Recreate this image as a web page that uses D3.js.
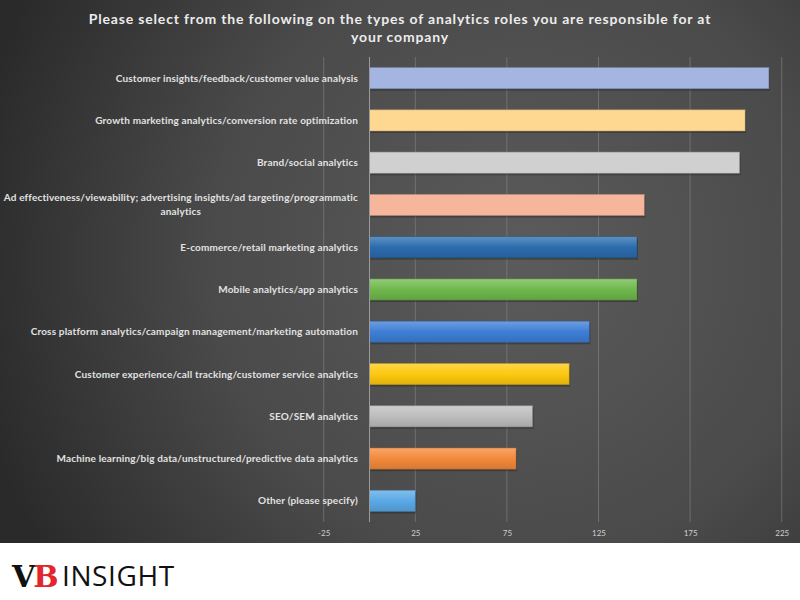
<!DOCTYPE html>
<html>
<head>
<meta charset="utf-8">
<script src="https://cdn.jsdelivr.net/npm/d3@7"></script>
<style>
  html, body { margin: 0; padding: 0; background: #ffffff; }
  svg { display: block; }
</style>
</head>
<body>
<svg id="chart" width="800" height="600"></svg>
<script>
const titleLines = [
  "Please select from the following on the types of analytics roles you are responsible for at",
  "your company"
];
const categories = [
  "Customer insights/feedback/customer value analysis",
  "Growth marketing analytics/conversion rate optimization",
  "Brand/social analytics",
  "Ad effectiveness/viewability; advertising insights/ad targeting/programmatic analytics",
  "E-commerce/retail marketing analytics",
  "Mobile analytics/app analytics",
  "Cross platform analytics/campaign management/marketing automation",
  "Customer experience/call tracking/customer service analytics",
  "SEO/SEM analytics",
  "Machine learning/big data/unstructured/predictive data analytics",
  "Other (please specify)"
];
const values = [218, 205, 202, 150, 146, 146, 120, 109, 89, 80, 25];
const barColors = ["#a3b5e0", "#fed891", "#d0d0d0", "#f6b69b", "#2b6cad", "#6fb84c", "#3d7ed5", "#fdc80f", "#bdbdbd", "#f4893a", "#5aa9e6"];
const gradientBars = [false, false, false, false, true, true, true, true, true, true, true];
const tickValues = [-25, 25, 75, 125, 175, 225];

const svg = d3.select("#chart");
const W = 800, H = 600;
const defs = svg.append("defs");

const bg = defs.append("radialGradient").attr("id", "bg")
  .attr("gradientUnits", "userSpaceOnUse")
  .attr("cx", 520).attr("cy", 260).attr("r", 560);
bg.append("stop").attr("offset", "0%").attr("stop-color", "#5b5b5b");
bg.append("stop").attr("offset", "55%").attr("stop-color", "#4a4a4a");
bg.append("stop").attr("offset", "100%").attr("stop-color", "#2a2a2a");

svg.append("rect").attr("x", 0).attr("y", 0).attr("width", W).attr("height", 543).attr("fill", "url(#bg)");
svg.append("rect").attr("x", 0).attr("y", 543).attr("width", W).attr("height", H - 543).attr("fill", "#ffffff");

const x = d3.scaleLinear().domain([-25, 225]).range([323.7, 781.7]);
const y = d3.scaleBand().domain(categories).range([57, 522]).paddingInner(0.5).paddingOuter(0.25);

// gradients
categories.forEach((c, i) => {
  if (!gradientBars[i]) return;
  const base = d3.color(barColors[i]);
  const g = defs.append("linearGradient").attr("id", "g" + i).attr("x1", 0).attr("y1", 0).attr("x2", 0).attr("y2", 1);
  g.append("stop").attr("offset", "0%").attr("stop-color", d3.interpolateRgb(base, "#ffffff")(0.25));
  g.append("stop").attr("offset", "50%").attr("stop-color", base.formatHex());
  g.append("stop").attr("offset", "100%").attr("stop-color", base.darker(0.35).formatHex());
});

// gridlines
svg.append("g").selectAll("line").data(tickValues).join("line")
  .attr("x1", d => x(d)).attr("x2", d => x(d))
  .attr("y1", 57).attr("y2", 522)
  .attr("stroke", "#8a8a8a").attr("stroke-opacity", 0.55).attr("stroke-width", 1);

// tick labels via axis
const xAxis = svg.append("g").attr("transform", "translate(0,522)")
  .call(d3.axisBottom(x).tickValues(tickValues).tickFormat(d => String(d)).tickSize(0).tickPadding(8));
xAxis.select(".domain").remove();
xAxis.selectAll("text").attr("fill", "#d0d0d0").style("font-family", "Lato, 'Open Sans', sans-serif").style("font-size", "8px");

// bar shadows
svg.append("g").selectAll("rect").data(categories).join("rect")
  .attr("x", x(0) + 1).attr("y", d => y(d) + 2)
  .attr("width", (d, i) => x(values[i]) - x(0))
  .attr("height", y.bandwidth())
  .attr("fill", "#1a1a1a").attr("opacity", 0.35);

// bars
svg.append("g").selectAll("rect").data(categories).join("rect")
  .attr("x", x(0)).attr("y", d => y(d))
  .attr("width", (d, i) => x(values[i]) - x(0))
  .attr("height", y.bandwidth())
  .attr("fill", (d, i) => gradientBars[i] ? "url(#g" + i + ")" : barColors[i])
  .attr("stroke", (d, i) => d3.color(barColors[i]).darker(0.8).formatHex())
  .attr("stroke-opacity", 0.6)
  .attr("stroke-width", 0.8);

// zero axis line
svg.append("line").attr("x1", x(0)).attr("x2", x(0)).attr("y1", 57).attr("y2", 522)
  .attr("stroke", "#9a9a9a").attr("stroke-width", 1);

// category labels
const labelX = 358;
const labG = svg.append("g")
  .style("font-family", "Lato, 'Open Sans', sans-serif")
  .style("font-size", "10px").style("font-weight", "bold")
  .style("letter-spacing", "0.17px").attr("fill", "#e2e2e2");
categories.forEach((c, i) => {
  const cy = y(c) + y.bandwidth() / 2;
  if (i === 3) {
    const parts = ["Ad effectiveness/viewability; advertising insights/ad targeting/programmatic", "analytics"];
    const t1 = labG.append("text").attr("x", labelX).attr("y", cy - 7 + 3.5).attr("text-anchor", "end").text(parts[0]);
    const w1 = t1.node().getComputedTextLength();
    labG.append("text").attr("x", labelX - w1 / 2).attr("y", cy + 7 + 3.5).attr("text-anchor", "middle").text(parts[1]);
  } else {
    labG.append("text").attr("x", labelX).attr("y", cy + 3.5).attr("text-anchor", "end").text(c);
  }
});

// title
svg.append("g").selectAll("text").data(titleLines).join("text")
  .attr("x", 400).attr("y", (d, i) => 24 + i * 18)
  .attr("text-anchor", "middle")
  .attr("fill", "#ececec")
  .style("font-family", "Lato, 'Open Sans', sans-serif")
  .style("font-size", "14px").style("font-weight", "bold")
  .style("letter-spacing", "0.82px")
  .text(d => d);

// logo
const logo = svg.append("g");
logo.append("text").attr("x", 12).attr("y", 587)
  .style("font-family", "'DejaVu Serif', serif").style("font-weight", "bold").style("font-size", "30px")
  .attr("fill", "#111111").attr("letter-spacing", "-2px")
  .text("V").append("tspan").attr("fill", "#e3262b").text("B");
logo.append("text").attr("x", 62).attr("y", 586)
  .style("font-family", "'Open Sans', sans-serif").style("font-size", "28px").style("font-weight", "normal")
  .style("letter-spacing", "0.6px")
  .attr("fill", "#111111")
  .text("INSIGHT");
</script>
</body>
</html>
